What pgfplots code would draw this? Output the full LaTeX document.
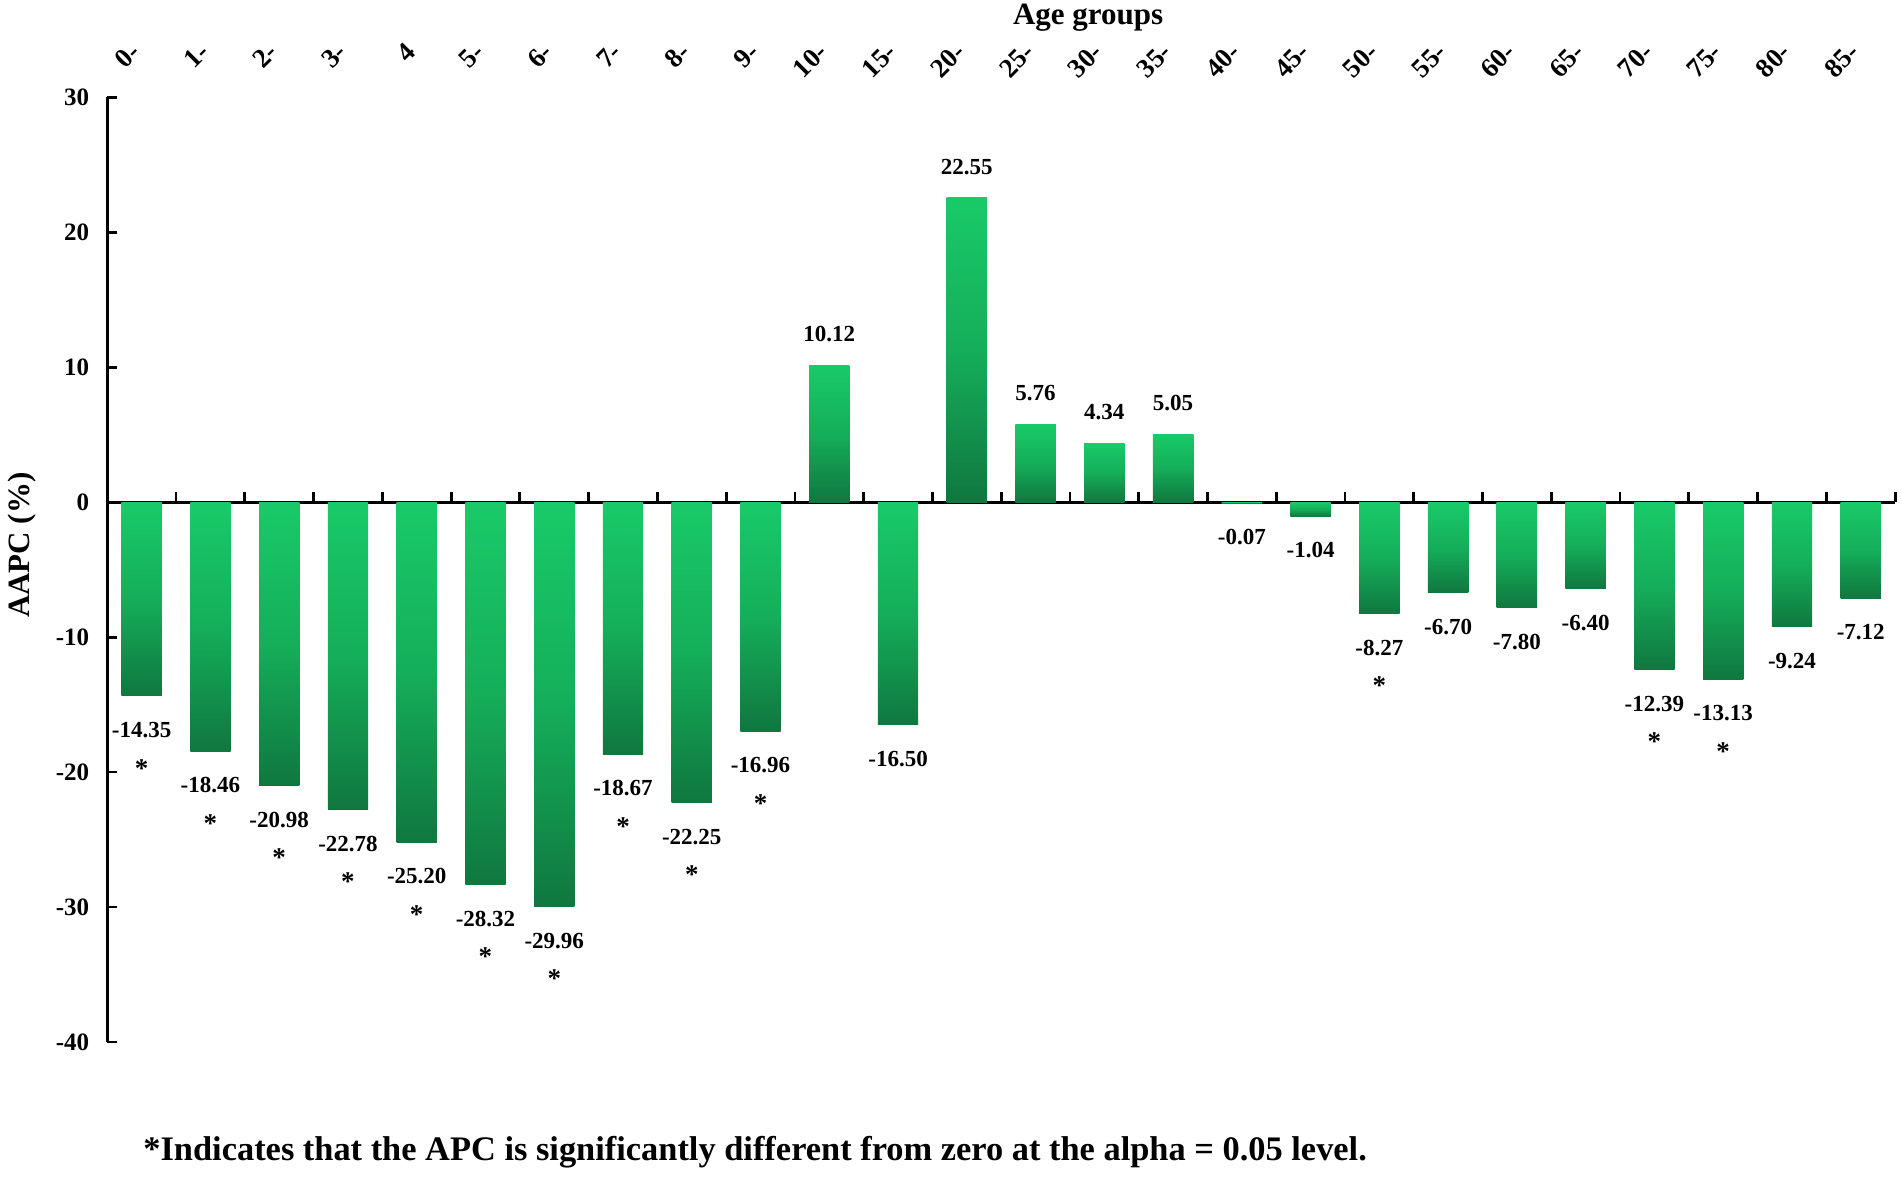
\documentclass[border=0pt]{standalone}
\usepackage{fontspec}
\setmainfont{Liberation Serif}
\usepackage{pgfplots}
\usepackage{pgfplotstable}
\pgfplotsset{compat=1.18}
\pgfkeys{/pgf/number format/assume math mode=true}
\definecolor{barTop}{HTML}{19CA68}
\definecolor{barMid}{HTML}{15AE5A}
\definecolor{barBot}{HTML}{10773F}

\pgfplotsset{
  basebar/.style={ybar, bar width=0.587, draw=none,
    top color=barTop, bottom color=barBot, middle color=barMid,
    nodes near coords={\pgfmathprintnumber[fixed,fixed zerofill,precision=2]{\pgfplotspointmeta}},
    nodes near coords align={vertical}},
  posbar/.style={basebar,
    every node near coord/.append style={font=\fontsize{11.5}{14}\selectfont\bfseries, inner xsep=0pt, inner ysep=11.5pt, text=black}},
  negbar/.style={basebar,
    every node near coord/.append style={font=\fontsize{11.5}{14}\selectfont\bfseries, inner xsep=0pt, inner ysep=13pt, text=black}},
}

\pgfplotstableread{
x y
0 -14.35
1 -18.46
2 -20.98
3 -22.78
4 -25.20
5 -28.32
6 -29.96
7 -18.67
8 -22.25
9 -16.96
18 -8.27
22 -12.39
23 -13.13
}\signif

\begin{document}
\begin{tikzpicture}
\useasboundingbox (-53.65pt,-67.5pt) rectangle (897.35pt,521pt);
\begin{axis}[
  at={(0pt,0pt)}, anchor=south west,
  scale only axis,
  width=893.9pt, height=472.35pt,
  xmin=-0.5, xmax=25.5, ymin=-40, ymax=30,
  axis x line=middle, axis y line=left,
  axis line style={-, line width=1.4pt},
  xtick={0.5,1.5,...,25.5},
  xticklabels={},
  ytick={-40,-30,...,30},
  tick align=inside,
  major tick length=5pt,
  tick style={line width=1.4pt, black},
  yticklabel style={font=\fontsize{12.5}{15}\selectfont\bfseries, xshift=-5.5pt},
  ylabel={AAPC (\%)},
  ylabel style={at={(axis description cs:-0.0477,0.526)}, anchor=center, font=\fontsize{15.5}{18}\selectfont\bfseries},
  clip=false,
]
\addplot[negbar] coordinates {(0,-14.35)};
\addplot[negbar] coordinates {(1,-18.46)};
\addplot[negbar] coordinates {(2,-20.98)};
\addplot[negbar] coordinates {(3,-22.78)};
\addplot[negbar] coordinates {(4,-25.20)};
\addplot[negbar] coordinates {(5,-28.32)};
\addplot[negbar] coordinates {(6,-29.96)};
\addplot[negbar] coordinates {(7,-18.67)};
\addplot[negbar] coordinates {(8,-22.25)};
\addplot[negbar] coordinates {(9,-16.96)};
\addplot[posbar] coordinates {(10,10.12)};
\addplot[negbar] coordinates {(11,-16.50)};
\addplot[posbar] coordinates {(12,22.55)};
\addplot[posbar] coordinates {(13,5.76)};
\addplot[posbar] coordinates {(14,4.34)};
\addplot[posbar] coordinates {(15,5.05)};
\addplot[negbar] coordinates {(16,-0.07)};
\addplot[negbar] coordinates {(17,-1.04)};
\addplot[negbar] coordinates {(18,-8.27)};
\addplot[negbar] coordinates {(19,-6.70)};
\addplot[negbar] coordinates {(20,-7.80)};
\addplot[negbar] coordinates {(21,-6.40)};
\addplot[negbar] coordinates {(22,-12.39)};
\addplot[negbar] coordinates {(23,-13.13)};
\addplot[negbar] coordinates {(24,-9.24)};
\addplot[negbar] coordinates {(25,-7.12)};
\addplot[draw=none, mark=none,
  nodes near coords={*},
  nodes near coords align={below},
  every node near coord/.append style={font=\fontsize{13.5}{15}\selectfont\bfseries, inner sep=0pt, yshift=-31.5pt, text=black},
] table[x=x,y=y] {\signif};
\end{axis}
\begin{axis}[
  at={(0pt,0pt)}, anchor=south west,
  scale only axis,
  width=893.9pt, height=472.35pt,
  xmin=-0.5, xmax=25.5, ymin=-40, ymax=30,
  axis x line*=top, axis y line=none,
  x axis line style={draw=none},
  xtick={0,...,25},
  major tick length=0pt,
  xtick style={draw=none},
  xticklabels={0-,1-,2-,3-,4,5-,6-,7-,8-,9-,10-,15-,20-,25-,30-,35-,40-,45-,50-,55-,60-,65-,70-,75-,80-,85-},
  xticklabel style={font=\fontsize{13.5}{15}\selectfont\bfseries, inner sep=0pt, yshift=25pt, xshift=-3pt, rotate=45, anchor=east},
  xlabel={Age groups},
  xlabel style={at={(axis description cs:0.5486,1.084)}, anchor=center, font=\fontsize{15.5}{18}\selectfont\bfseries},
]
\addplot[draw=none] coordinates {(0,0)};
\end{axis}
\node[anchor=west, font=\fontsize{17.2}{20}\selectfont\bfseries, inner sep=0pt] at (17.85pt,-55pt) {*Indicates that the APC is significantly different from zero at the alpha = 0.05 level.};
\end{tikzpicture}
\end{document}
